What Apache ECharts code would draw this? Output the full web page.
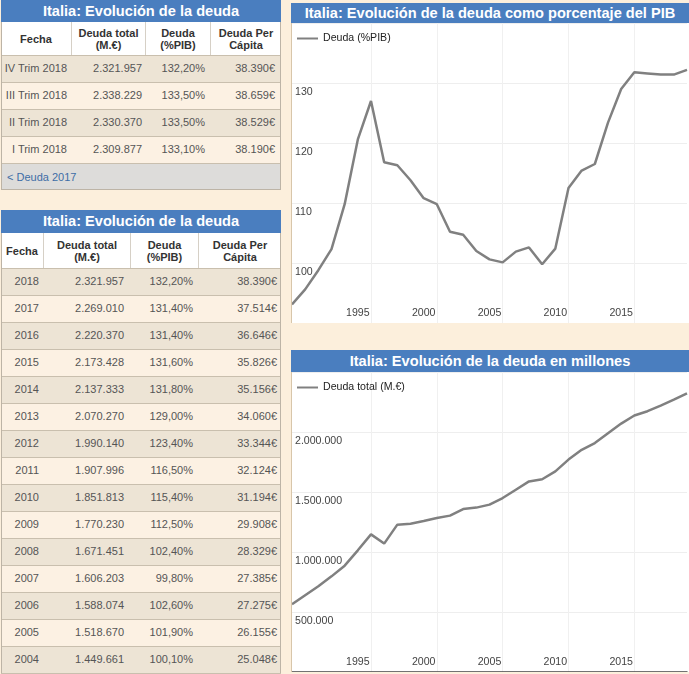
<!DOCTYPE html>
<html><head><meta charset="utf-8">
<script src="https://cdn.jsdelivr.net/npm/echarts@6/dist/echarts.min.js"></script>
<style>
html,body{margin:0;padding:0;}
body{width:689px;height:674px;overflow:hidden;position:relative;background:#FCEFDC;font-family:"Liberation Sans",Arial,Helvetica,sans-serif;}
.abs{position:absolute;box-sizing:border-box;}
.ttl{background:#4A7EBF;color:#fff;font-weight:bold;font-size:14.6px;text-align:center;white-space:nowrap;}
.hd{background:#fff;color:#333;font-weight:bold;font-size:11px;text-align:center;display:flex;align-items:center;justify-content:center;line-height:12px;}
.cell{font-size:11px;color:#555;white-space:nowrap;text-align:right;line-height:27px;}
</style></head><body>
<div id="c1p" class="abs" style="left:291px;top:23px;width:398px;height:300px;background:#fff;border-left:1px solid #d8c6aa;"></div>
<div class="abs ttl" style="left:291px;top:3px;width:398px;height:20px;line-height:20px;">Italia: Evolución de la deuda como porcentaje del PIB</div>
<div id="c1" class="abs" style="left:292px;top:23px;width:397px;height:300px;"></div>
<div id="c2p" class="abs" style="left:291px;top:372px;width:398px;height:300px;background:#fff;border-left:1px solid #d8c6aa;"></div>
<div class="abs ttl" style="left:291px;top:350px;width:398px;height:22px;line-height:22px;">Italia: Evolución de la deuda en millones</div>
<div id="c2" class="abs" style="left:292px;top:372px;width:397px;height:300px;"></div>
<script>
// ---- table data ----
const tableTitle = 'Italia: Evolución de la deuda';
const headers = ['Fecha', 'Deuda total<br>(M.€)', 'Deuda<br>(%PIB)', 'Deuda Per<br>Cápita'];
const trimLabels = ['IV Trim 2018', 'III Trim 2018', 'II Trim 2018', 'I Trim 2018'];
const trimTotal = ['2.321.957', '2.338.229', '2.330.370', '2.309.877'];
const trimPct = ['132,20%', '133,50%', '133,50%', '133,10%'];
const trimPerCap = ['38.390€', '38.659€', '38.529€', '38.190€'];
const prevLink = '&lt; Deuda 2017';
const yearLabels = ['2018','2017','2016','2015','2014','2013','2012','2011','2010','2009','2008','2007','2006','2005','2004'];
const yearTotal = ['2.321.957','2.269.010','2.220.370','2.173.428','2.137.333','2.070.270','1.990.140','1.907.996','1.851.813','1.770.230','1.671.451','1.606.203','1.588.074','1.518.670','1.449.661'];
const yearPct = ['132,20%','131,40%','131,40%','131,60%','131,80%','129,00%','123,40%','116,50%','115,40%','112,50%','102,40%','99,80%','102,60%','101,90%','100,10%'];
const yearPerCap = ['38.390€','37.514€','36.646€','35.826€','35.156€','34.060€','33.344€','32.124€','31.194€','29.908€','28.329€','27.385€','27.275€','26.155€','25.048€'];

// ---- chart data (x positions as labelled on the charts) ----
const chartYears = [1990,1991,1992,1993,1994,1995,1996,1997,1998,1999,2000,2001,2002,2003,2004,2005,2006,2007,2008,2009,2010,2011,2012,2013,2014,2015,2016,2017,2018,2019,2020];
const debtPctGdp = [93.1,95.6,98.8,102.3,109.8,120.6,127.0,116.8,116.3,113.8,110.8,109.8,105.2,104.7,102.0,100.6,100.1,101.9,102.6,99.8,102.4,112.5,115.4,116.5,123.4,129.0,131.8,131.6,131.4,131.4,132.2];
const debtTotal = [564000,639000,714000,797000,886000,1014000,1147000,1070000,1228000,1236000,1258000,1283000,1303000,1358000,1370000,1395000,1449661,1518670,1588074,1606203,1671451,1770230,1851813,1907996,1990140,2070270,2137333,2173428,2220370,2269010,2321957];
const pctTicks = {min: 90, max: 140, interval: 10};
const totalTicks = {min: 0, max: 2500000, interval: 500000};

const ROW_DARK = '#EDE4D5', ROW_LIGHT = '#FCF1E3', SEP = '#C9BFAE', BORDER = '#BDB4A6';

function box(left, top, w, h, cls, style, html) {
  const d = document.createElement('div');
  d.className = 'abs ' + (cls || '');
  d.style.cssText = `left:${left}px;top:${top}px;width:${w}px;height:${h}px;` + (style || '');
  if (html != null) d.innerHTML = html;
  document.body.appendChild(d);
  return d;
}

function buildTable(x, y, titleH, headH, cols, pads, rows, link) {
  const W = cols[cols.length - 1];
  box(x, y, W, titleH, 'ttl', `line-height:${titleH}px;`, tableTitle);
  let top = y + titleH;
  for (let c = 0; c < 4; c++) {
    box(x + cols[c], top, cols[c + 1] - cols[c], headH, 'hd',
      c < 3 ? 'border-right:1px solid #D6D0C6;' : '', headers[c]);
  }
  top += headH;
  rows.forEach((r, i) => {
    box(x, top, W, 27, '', `background:${i % 2 === 0 ? ROW_DARK : ROW_LIGHT};border-top:1px solid ${SEP};`);
    for (let c = 0; c < 4; c++) {
      box(x + cols[c], top, cols[c + 1] - cols[c], 27, 'cell', `padding-right:${pads[c]}px;`, r[c]);
    }
    top += 27;
  });
  if (link) {
    box(x, top, W, 27, 'cell', `background:#DDDCDA;border-top:1px solid ${SEP};border-bottom:1px solid ${BORDER};text-align:left;padding-left:6px;color:#3D6DA6;`, link);
    top += 27;
  } else {
    box(x, top, W, 1, '', `background:${SEP};`);
  }
  // side borders
  box(x, y + titleH, 1, top - y - titleH, '', `background:${BORDER};`);
  box(x + W - 1, y + titleH, 1, top - y - titleH, '', `background:${BORDER};`);
}

buildTable(1, 0, 22, 33, [0, 71, 145, 210, 280], [5, 4, 6, 6],
  trimLabels.map((l, i) => [l, trimTotal[i], trimPct[i], trimPerCap[i]]), prevLink);
buildTable(1, 210, 23, 35, [0, 43, 130, 198, 280], [5, 7, 6, 4],
  yearLabels.map((l, i) => [l, yearTotal[i], yearPct[i], yearPerCap[i]]), null);

function dots(v) { return String(v).replace(/\B(?=(\d{3})+(?!\d))/g, '.'); }

function makeChart(id, name, values, ticks, fmt, axisColor, axisWidth) {
  const ch = echarts.init(document.getElementById(id), null, {renderer: 'canvas'});
  const n = chartYears.length;
  ch.setOption({
    animation: false,
    textStyle: {fontFamily: 'Liberation Sans, Arial, sans-serif'},
    grid: {left: 0, right: 2, top: 0, bottom: 0, containLabel: false},
    legend: {show: true, left: 0, top: 5, icon: 'rect', itemWidth: 21, itemHeight: 2, itemGap: 10,
      textStyle: {fontSize: 10.6, color: '#222'}, data: [name]},
    xAxis: {type: 'category', data: chartYears.map(String), boundaryGap: false,
      axisLine: {show: true, lineStyle: {color: axisColor, width: axisWidth}},
      axisTick: {show: false},
      axisLabel: {inside: true, margin: 4, fontSize: 10.6, color: '#444', hideOverlap: false,
        interval: (i, v) => i > 0 && i < n - 1 && (+v) % 5 === 0},
      splitLine: {show: true, interval: (i, v) => i > 1 && i < n - 1 && (+v) % 5 === 1, lineStyle: {color: '#F0F0F0'}}},
    yAxis: {type: 'value', min: ticks.min, max: ticks.max, interval: ticks.interval,
      axisLine: {show: false}, axisTick: {show: false},
      axisLabel: {inside: true, margin: 3, verticalAlign: 'top', padding: [4, 0, 0, 0], fontSize: 10.6, color: '#444',
        showMinLabel: false, showMaxLabel: false, formatter: fmt},
      splitLine: {show: true, lineStyle: {color: '#EEEEEE'}}},
    series: [{type: 'line', name: name, data: values, symbol: 'none', showSymbol: false,
      lineStyle: {color: '#808080', width: 2.5}, itemStyle: {color: '#808080'}}]
  });
}
makeChart('c1', 'Deuda (%PIB)', debtPctGdp, pctTicks, v => String(v), '#A0A0A0', 1);
makeChart('c2', 'Deuda total (M.€)', debtTotal, totalTicks, v => dots(v), '#444444', 1.5);
</script>
</body></html>
